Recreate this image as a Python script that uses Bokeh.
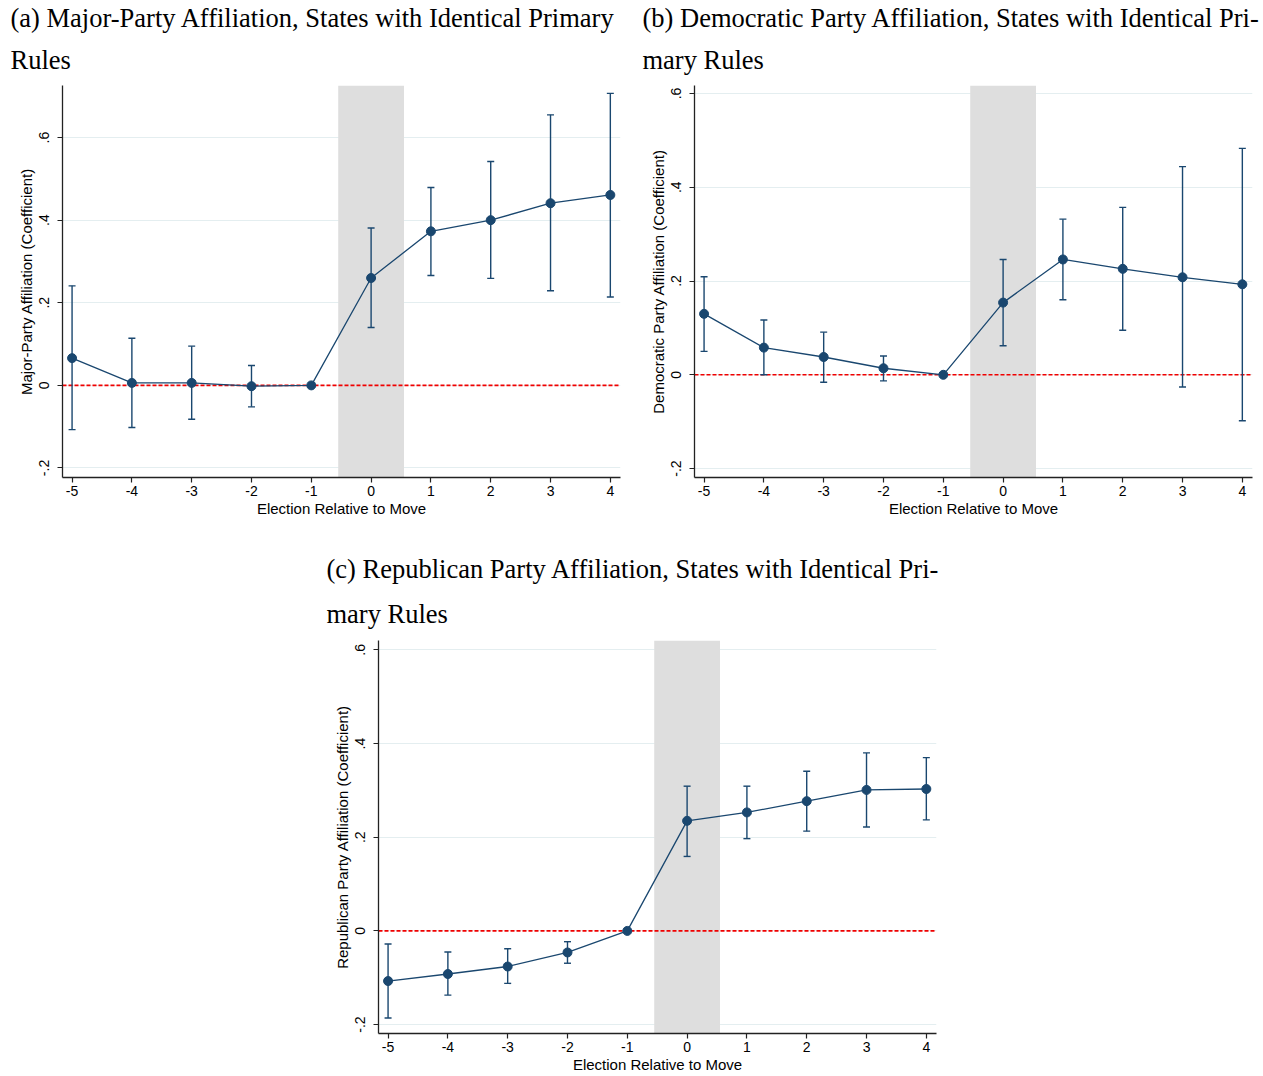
from bokeh.plotting import figure
from bokeh.models import (Range1d, FixedTicker, Title, BoxAnnotation, Span, Whisker,
                          TeeHead, ColumnDataSource, Spacer)
from bokeh.layouts import row, column
from bokeh.embed import file_html
from bokeh.resources import INLINE

# ---------------- data ----------------
rel = [-5, -4, -3, -2, -1, 0, 1, 2, 3, 4]
x_tick_labels = ["-5", "-4", "-3", "-2", "-1", "0", "1", "2", "3", "4"]
y_ticks = [-0.2, 0.0, 0.2, 0.4, 0.6]
y_tick_labels = ["-.2", "0", ".2", ".4", ".6"]
event_window = [-0.55, 0.55]

major_coef = [0.066, 0.006, 0.006, -0.002, 0.0, 0.260, 0.373, 0.400, 0.441, 0.461]
major_lo = [-0.107, -0.102, -0.082, -0.052, 0.0, 0.140, 0.266, 0.259, 0.229, 0.214]
major_hi = [0.241, 0.114, 0.095, 0.048, 0.0, 0.381, 0.479, 0.542, 0.655, 0.707]

dem_coef = [0.130, 0.058, 0.038, 0.014, 0.0, 0.154, 0.246, 0.226, 0.208, 0.193]
dem_lo = [0.050, 0.000, -0.016, -0.013, 0.0, 0.062, 0.160, 0.095, -0.026, -0.098]
dem_hi = [0.209, 0.117, 0.091, 0.040, 0.0, 0.246, 0.332, 0.357, 0.444, 0.483]

rep_coef = [-0.107, -0.092, -0.076, -0.046, 0.0, 0.235, 0.253, 0.277, 0.301, 0.303]
rep_lo = [-0.186, -0.137, -0.112, -0.069, 0.0, 0.159, 0.197, 0.213, 0.222, 0.237]
rep_hi = [-0.028, -0.045, -0.038, -0.023, 0.0, 0.309, 0.309, 0.341, 0.380, 0.370]

titles_a = ["(a) Major-Party Affiliation, States with Identical Primary", "Rules"]
titles_b = ["(b) Democratic Party Affiliation, States with Identical Pri-", "mary Rules"]
titles_c = ["(c) Republican Party Affiliation, States with Identical Pri-", "mary Rules"]
ylab_a = "Major-Party Affiliation (Coefficient)"
ylab_b = "Democratic Party Affiliation (Coefficient)"
ylab_c = "Republican Party Affiliation (Coefficient)"
xlab = "Election Relative to Move"

# ---------------- style ----------------
NAVY = "#1a476f"
SERIF = "Liberation Serif"
SANS = "Liberation Sans"
FRAME_W = 558
TFS = "26.5px"


def panel(titles, ylabel, coef, lo, hi, yrange, frame_h, bl, br, bt, bb, s1, s2):
    p = figure(frame_width=FRAME_W, frame_height=frame_h, output_backend="svg",
               toolbar_location=None, title=None,
               x_range=Range1d(-5.16, 4.17), y_range=Range1d(*yrange),
               min_border_left=bl, min_border_right=br, min_border_top=bt,
               min_border_bottom=bb)
    p.outline_line_color = None
    p.background_fill_color = "white"
    p.border_fill_color = "white"

    # two-line serif title (second line first: it sits next to the frame)
    kw = dict(align="left", offset=-52, vertical_align="top", text_font=SERIF,
              text_font_size=TFS, text_font_style="normal", text_color="black")
    p.add_layout(Title(text=titles[1], standoff=s2, **kw), "above")
    p.add_layout(Title(text=titles[0], standoff=s1, **kw), "above")

    # grid
    p.xgrid.grid_line_color = None
    p.ygrid.ticker = FixedTicker(ticks=y_ticks)
    p.ygrid.grid_line_color = "#e4eef0"
    p.ygrid.grid_line_width = 1

    # axes
    p.xaxis.ticker = FixedTicker(ticks=rel)
    p.xaxis.major_label_overrides = {r: s for r, s in zip(rel, x_tick_labels)}
    p.yaxis.ticker = FixedTicker(ticks=y_ticks)
    p.yaxis.major_label_overrides = {t: s for t, s in zip(y_ticks, y_tick_labels)}
    p.yaxis.major_label_orientation = "vertical"
    for ax in (p.xaxis, p.yaxis):
        ax.axis_line_color = "#222222"
        ax.axis_line_width = 1.3
        ax.major_tick_line_color = "#222222"
        ax.major_tick_line_width = 1.2
        ax.major_tick_out = 5
        ax.major_tick_in = 0
        ax.minor_tick_line_color = None
        ax.major_label_text_font = SANS
        ax.major_label_text_font_size = "14px"
        ax.major_label_text_color = "black"
        ax.axis_label_text_font = SANS
        ax.axis_label_text_font_size = "15px"
        ax.axis_label_text_font_style = "normal"
        ax.axis_label_text_color = "black"
    p.xaxis.major_label_standoff = 3
    p.xaxis.axis_label_standoff = 1
    p.yaxis.major_label_standoff = 8
    p.yaxis.axis_label_standoff = 2
    p.xaxis.axis_label = xlab
    p.yaxis.axis_label = ylabel

    # shaded event window
    p.add_layout(BoxAnnotation(left=event_window[0], right=event_window[1],
                               fill_color="#dedede", fill_alpha=1.0,
                               line_color=None, level="underlay"))
    # zero reference line
    p.add_layout(Span(location=0, dimension="width", line_color="#f00000",
                      line_dash="4 2", line_width=1.6, level="underlay"))

    # confidence intervals (the reference period has none)
    keep = [i for i in range(len(rel)) if hi[i] != lo[i]]
    wsrc = ColumnDataSource(dict(x=[rel[i] for i in keep],
                                 lo=[lo[i] for i in keep],
                                 hi=[hi[i] for i in keep]))
    p.add_layout(Whisker(source=wsrc, base="x", lower="lo", upper="hi",
                         dimension="height", line_color=NAVY, line_width=1.4,
                         upper_head=TeeHead(size=7, line_color=NAVY, line_width=1.4),
                         lower_head=TeeHead(size=7, line_color=NAVY, line_width=1.4)))

    src = ColumnDataSource(dict(x=rel, y=coef))
    p.line("x", "y", source=src, line_color=NAVY, line_width=1.3)
    p.scatter("x", "y", source=src, size=9, fill_color=NAVY, line_color=NAVY)
    return p


pa = panel(titles_a, ylab_a, major_coef, major_lo, major_hi, (-0.223, 0.726),
           392, 62, 12, 85, 45, 4, 17)
pb = panel(titles_b, ylab_b, dem_coef, dem_lo, dem_hi, (-0.219, 0.617),
           392, 62, 11, 85, 45, 4, 17)
pc = panel(titles_c, ylab_c, rep_coef, rep_lo, rep_hi, (-0.219, 0.620),
           393, 62, 10, 118, 43, 5, 20)

layout = column(row(pa, pb), row(Spacer(width=316, height=10), pc))

open("out.html", "w").write(file_html(layout, INLINE))
